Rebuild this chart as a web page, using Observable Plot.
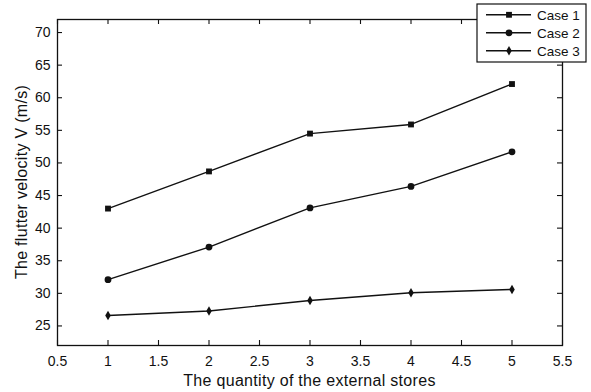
<!DOCTYPE html>
<html>
<head>
<meta charset="utf-8">
<script src="https://cdn.jsdelivr.net/npm/d3@7"></script>
<script src="https://cdn.jsdelivr.net/npm/@observablehq/plot@0.6"></script>
<style>
  html, body { margin: 0; padding: 0; background: #fff; }
  svg { display: block; }
</style>
</head>
<body>
<div id="chart"></div>
<script>
const quantities = [1, 2, 3, 4, 5];
const seriesNames = ["Case 1", "Case 2", "Case 3"];
const seriesSymbols = ["square", "circle", "diamond"];
const case1 = [43.0, 48.7, 54.5, 55.9, 62.1];
const case2 = [32.1, 37.1, 43.1, 46.4, 51.7];
const case3 = [26.6, 27.3, 28.9, 30.1, 30.6];
const xTicks = [0.5, 1, 1.5, 2, 2.5, 3, 3.5, 4, 4.5, 5, 5.5];
const yTicks = [25, 30, 35, 40, 45, 50, 55, 60, 65, 70];
const xTitle = "The quantity of the external stores";
const yTitle = "The flutter velocity V (m/s)";

const allSeries = [case1, case2, case3];
const rows = [];
allSeries.forEach((vals, i) => vals.forEach((v, j) =>
  rows.push({series: seriesNames[i], symbol: seriesSymbols[i], x: quantities[j], y: v})));

const W = 591, H = 392;
const mL = 57, mR = 29, mT = 19, mB = 47;
const innerW = W - mL - mR, innerH = H - mT - mB;
const tickLen = 5;
const ink = "#111";
const font = "Liberation Sans, Arial, sans-serif";
const rFor = s => s === "diamond" ? 2.9 : s === "square" ? 3.3 : 3.4;

const plot = Plot.plot({
  width: W, height: H,
  marginLeft: mL, marginRight: mR, marginTop: mT, marginBottom: mB,
  style: {fontFamily: font, fontSize: "14px", color: ink, background: "#fff"},
  x: {domain: [0.5, 5.5]},
  y: {domain: [22, 72]},
  symbol: {domain: seriesSymbols, range: seriesSymbols},
  marks: [
    Plot.axisX({ticks: xTicks, tickSize: 0, tickPadding: 11, label: null, fontSize: 14, fill: ink, tickFormat: d => String(d)}),
    Plot.axisY({ticks: yTicks, tickSize: 0, tickPadding: 7, label: null, fontSize: 14, fill: ink}),
    // inward ticks on all four sides
    Plot.tickX(xTicks, {x: d => d, stroke: ink, strokeWidth: 1.1, insetTop: innerH - tickLen}),
    Plot.tickX(xTicks, {x: d => d, stroke: ink, strokeWidth: 1.1, insetBottom: innerH - tickLen}),
    Plot.tickY(yTicks, {y: d => d, stroke: ink, strokeWidth: 1.1, insetRight: innerW - tickLen}),
    Plot.tickY(yTicks, {y: d => d, stroke: ink, strokeWidth: 1.1, insetLeft: innerW - tickLen}),
    Plot.frame({stroke: ink, strokeWidth: 1.3}),
    Plot.line(rows, {x: "x", y: "y", z: "series", stroke: ink, strokeWidth: 1.4}),
    ...seriesSymbols.map(s =>
      Plot.dot(rows.filter(d => d.symbol === s), {x: "x", y: "y", symbol: "symbol", r: rFor(s), fill: ink, stroke: "none"}))
  ]
});

const svg = d3.select(plot);
const fx = (mL + (W - mR)) / 2, fy = (mT + (H - mB)) / 2;
svg.append("text")
  .attr("x", fx).attr("y", 386)
  .attr("text-anchor", "middle")
  .attr("font-family", font).attr("font-size", 16).attr("letter-spacing", "0.3px").attr("fill", ink)
  .text(xTitle);
svg.append("text")
  .attr("transform", `translate(27,${fy}) rotate(-90)`)
  .attr("text-anchor", "middle")
  .attr("font-family", font).attr("font-size", 16).attr("letter-spacing", "0.3px").attr("fill", ink)
  .text(yTitle);

// legend
const lg = svg.append("g");
lg.append("rect").attr("x", 477).attr("y", 4).attr("width", 109).attr("height", 58)
  .attr("fill", "#fff").attr("stroke", ink).attr("stroke-width", 1.2);
seriesNames.forEach((name, i) => {
  const y = 14.8 + i * 18;
  lg.append("line").attr("x1", 486).attr("x2", 531).attr("y1", y).attr("y2", y)
    .attr("stroke", ink).attr("stroke-width", 1.4);
  const sym = {square: d3.symbolSquare, circle: d3.symbolCircle, diamond: d3.symbolDiamond}[seriesSymbols[i]];
  const r = rFor(seriesSymbols[i]);
  lg.append("path").attr("d", d3.symbol(sym, Math.PI * r * r)())
    .attr("transform", `translate(509,${y})`).attr("fill", ink);
  lg.append("text").attr("x", 537).attr("y", y).attr("dy", "0.36em")
    .attr("text-anchor", "start")
    .attr("font-family", font).attr("font-size", 13.5).attr("fill", ink)
    .text(name);
});

document.getElementById("chart").appendChild(plot);
</script>
</body>
</html>
